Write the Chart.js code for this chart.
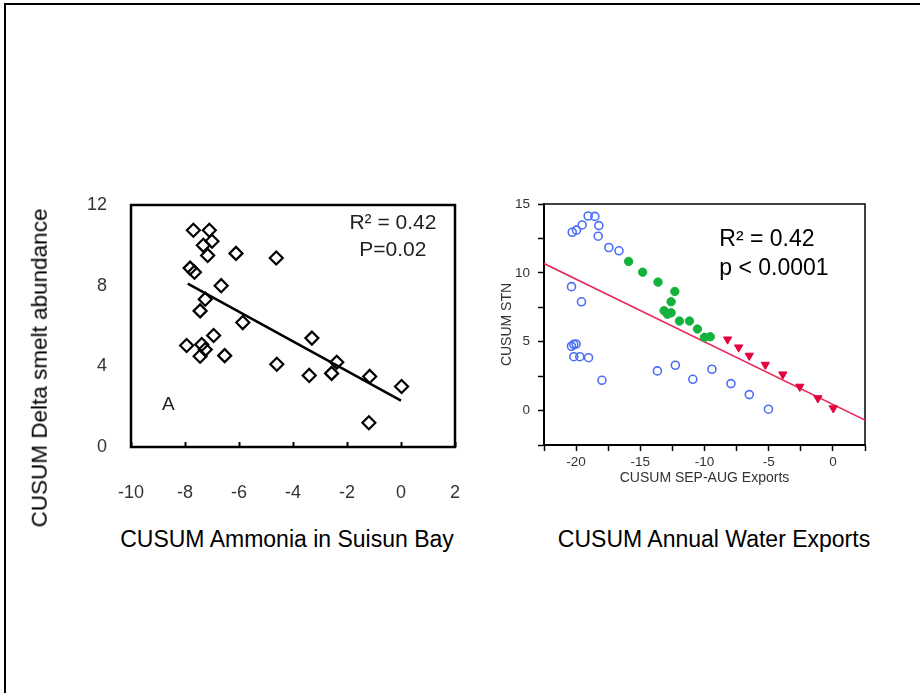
<!DOCTYPE html>
<html>
<head>
<meta charset="utf-8">
<script src="https://cdn.jsdelivr.net/npm/chart.js@4.4.0/dist/chart.umd.min.js"></script>
<style>
    body { margin: 0; width: 920px; height: 693px; overflow: hidden; background: #fff; font-family: "Liberation Sans", Arial, sans-serif; }
    #marco { position: absolute; left: 4px; top: 3px; width: 1000px; height: 1000px; border-top: 2px solid #000; border-left: 2px solid #000; }
    canvas { position: absolute; }
    .rotulo { position: absolute; font-size: 23px; color: #000; white-space: nowrap; line-height: 1; }
</style>
</head>
<body>
<div id="marco"></div>
<canvas id="chartAmonio" width="505" height="343" style="left:0px;top:167px"></canvas>
<canvas id="chartExportaciones" width="390" height="320" style="left:490px;top:180px"></canvas>
<div class="rotulo" style="left:40px;top:368px;font-size:22.5px;transform:translate(-50%,-50%) rotate(-90deg)">CUSUM Delta smelt abundance</div>
<div class="rotulo" style="left:287px;top:539px;transform:translate(-50%,-50%)">CUSUM Ammonia in Suisun Bay</div>
<div class="rotulo" style="left:714px;top:539px;transform:translate(-50%,-50%)">CUSUM Annual Water Exports</div>

<script>
// ===== Datos =====

// Panel A: amonio vs abundancia de delta smelt
const amonioX = [-7.69, -7.1, -7.0, -7.32, -7.16, -6.11, -4.62, -7.81, -7.65, -6.66, -7.25, -7.44, -5.86, -6.94,
                 -7.94, -7.38, -7.25, -7.44, -6.53, -4.6, -3.3, -3.4, -2.38, -2.57, -1.16, 0.02, -1.19];
const smeltY = [10.75, 10.75, 10.2, 10.0, 9.5, 9.6, 9.37, 8.87, 8.67, 8.0, 7.33, 6.75, 6.17, 5.53,
                5.03, 5.08, 4.83, 4.5, 4.53, 4.1, 5.4, 3.55, 4.2, 3.65, 3.5, 3.0, 1.2];
const regresionAX = [-7.9, 0];
const regresionAY = [8.1, 2.3];

// Panel derecho: exportaciones vs STN
const azulX = [-20.3, -19.97, -19.53, -19.06, -18.54, -18.23, -18.28, -17.45, -16.66, -20.36, -19.58,
               -20.36, -20.18, -20.0, -20.18, -19.71, -19.03, -17.99, -13.67, -12.27, -10.91, -9.42, -7.94, -6.51, -5.02];
const azulY = [12.95, 13.1, 13.48, 14.13, 14.1, 13.43, 12.66, 11.84, 11.6, 9.0, 7.9,
               4.67, 4.81, 4.83, 3.91, 3.91, 3.84, 2.2, 2.88, 3.29, 2.27, 3.0, 1.96, 1.16, 0.1];
const verdeX = [-15.91, -14.82, -13.62, -12.31, -12.6, -13.15, -12.89, -12.6, -11.95, -11.17, -10.55, -10.0, -9.55];
const verdeY = [10.83, 10.05, 9.33, 8.65, 7.9, 7.25, 7.0, 7.1, 6.5, 6.5, 5.92, 5.32, 5.36];
const rojoX = [-8.2, -7.34, -6.51, -5.26, -3.9, -2.58, -1.17, 0.03];
const rojoY = [5.17, 4.59, 3.99, 3.33, 2.63, 1.74, 0.9, 0.17];
const regresionBX = [-22.5, 2.5];
const regresionBY = [10.68, -0.69];

const fuente = '"Liberation Sans", Arial, sans-serif';

function puntos(xs, ys) {
    return xs.map((x, i) => ({ x: x, y: ys[i] }));
}

// Marco del área del gráfico
const pluginMarco = {
    id: 'marco',
    beforeDatasetsDraw(chart, args, opts) {
        const { left, top, right, bottom } = chart.chartArea;
        const ctx = chart.ctx;
        ctx.save();
        ctx.lineWidth = opts.width;
        ctx.strokeStyle = opts.color;
        ctx.strokeRect(left, top, right - left, bottom - top);
        ctx.restore();
    }
};

// Textos dentro del gráfico (R², P, letra)
const pluginTextos = {
    id: 'textos',
    afterDatasetsDraw(chart, args, opts) {
        const ctx = chart.ctx;
        (opts.items || []).forEach(t => {
            ctx.save();
            ctx.font = t.font;
            ctx.fillStyle = t.color;
            ctx.textAlign = t.align;
            ctx.textBaseline = 'middle';
            ctx.fillText(t.text, chart.scales.x.getPixelForValue(t.x), chart.scales.y.getPixelForValue(t.y));
            ctx.restore();
        });
    }
};

// Gráfico A
new Chart(document.getElementById('chartAmonio'), {
    type: 'scatter',
    data: {
        datasets: [{
            data: puntos(amonioX, smeltY),
            pointStyle: 'rectRot',
            pointRadius: 6.5,
            borderColor: '#000',
            backgroundColor: 'rgba(0,0,0,0)',
            borderWidth: 2.2
        }, {
            data: puntos(regresionAX, regresionAY),
            showLine: true,
            pointRadius: 0,
            borderColor: '#000',
            borderWidth: 2.5
        }]
    },
    options: {
        responsive: false,
        animation: false,
        // el relleno de las etiquetas también empuja el área; estos valores lo cubren
        layout: { padding: { left: 0, top: 38, right: 50, bottom: 0 } },
        plugins: {
            legend: { display: false },
            tooltip: { enabled: false },
            marco: { width: 2.5, color: '#000' },
            textos: {
                items: [
                    { text: 'R² = 0.42', x: -0.3, y: 11.08, align: 'center', font: '21px ' + fuente, color: '#222' },
                    { text: 'P=0.02', x: -0.3, y: 9.75, align: 'center', font: '21px ' + fuente, color: '#222' },
                    { text: 'A', x: -8.62, y: 2.08, align: 'center', font: '19px ' + fuente, color: '#222' }
                ]
            }
        },
        scales: {
            x: {
                min: -10,
                max: 2,
                afterFit: s => { s.height = 63; },
                border: { display: false },
                grid: { drawOnChartArea: false, tickLength: -5, tickWidth: 2, tickColor: '#000' },
                ticks: { stepSize: 2, padding: 40, color: '#333', autoSkip: false, maxRotation: 0, font: { family: fuente, size: 18 } }
            },
            y: {
                min: 0,
                max: 12,
                afterFit: s => { s.width = 131; },
                border: { display: false },
                grid: { display: false, drawTicks: false },
                ticks: { stepSize: 4, padding: 24, color: '#333', font: { family: fuente, size: 18 } }
            }
        }
    },
    plugins: [pluginMarco, pluginTextos]
});

// Gráfico de exportaciones
new Chart(document.getElementById('chartExportaciones'), {
    type: 'scatter',
    data: {
        datasets: [{
            data: puntos(azulX, azulY),
            pointStyle: 'circle',
            pointRadius: 4,
            borderColor: '#4c6ef5',
            backgroundColor: 'rgba(0,0,0,0)',
            borderWidth: 1.6
        }, {
            data: puntos(verdeX, verdeY),
            pointStyle: 'circle',
            pointRadius: 4.2,
            borderColor: '#13b23c',
            backgroundColor: '#13b23c',
            borderWidth: 1
        }, {
            data: puntos(rojoX, rojoY),
            pointStyle: 'triangle',
            rotation: 180,
            pointRadius: 4.8,
            borderColor: '#e5003c',
            backgroundColor: '#e5003c',
            borderWidth: 1
        }, {
            data: puntos(regresionBX, regresionBY),
            showLine: true,
            pointRadius: 0,
            borderColor: '#e8285a',
            borderWidth: 1.6
        }]
    },
    options: {
        responsive: false,
        animation: false,
        layout: { padding: { left: 0, top: 24, right: 15, bottom: 13 } },
        plugins: {
            legend: { display: false },
            tooltip: { enabled: false },
            marco: { width: 1.5, color: '#000' },
            textos: {
                items: [
                    { text: 'R² = 0.42', x: -8.85, y: 12.44, align: 'left', font: '23px ' + fuente, color: '#000' },
                    { text: 'p < 0.0001', x: -8.85, y: 10.32, align: 'left', font: '23px ' + fuente, color: '#000' }
                ]
            }
        },
        scales: {
            x: {
                min: -22.5,
                max: 2.5,
                afterFit: s => { s.height = 42; },
                border: { display: true, width: 2, color: '#000' },
                grid: { drawOnChartArea: false, tickLength: 6, tickWidth: 1.5, tickColor: '#000' },
                ticks: {
                    stepSize: 2.5,
                    padding: 3,
                    color: '#333',
                    autoSkip: false,
                    maxRotation: 0,
                    font: { family: fuente, size: 13.5 },
                    callback: v => (v % 5 === 0 ? v : '')
                },
                title: { display: true, text: 'CUSUM SEP-AUG Exports', color: '#333', font: { family: fuente, size: 14 }, padding: { top: 0, bottom: 0 } }
            },
            y: {
                min: -2.5,
                max: 15,
                afterFit: s => { s.width = 54; },
                border: { display: true, width: 2, color: '#000' },
                grid: { drawOnChartArea: false, tickLength: 6, tickWidth: 1.5, tickColor: '#000' },
                ticks: {
                    stepSize: 2.5,
                    padding: 8,
                    color: '#333',
                    autoSkip: false,
                    font: { family: fuente, size: 13.5 },
                    callback: v => (v % 5 === 0 ? v : '')
                },
                title: { display: true, text: 'CUSUM STN', color: '#333', font: { family: fuente, size: 14 }, padding: { top: 8.6, bottom: 0 } }
            }
        }
    },
    plugins: [pluginMarco, pluginTextos]
});
</script>
</body>
</html>
